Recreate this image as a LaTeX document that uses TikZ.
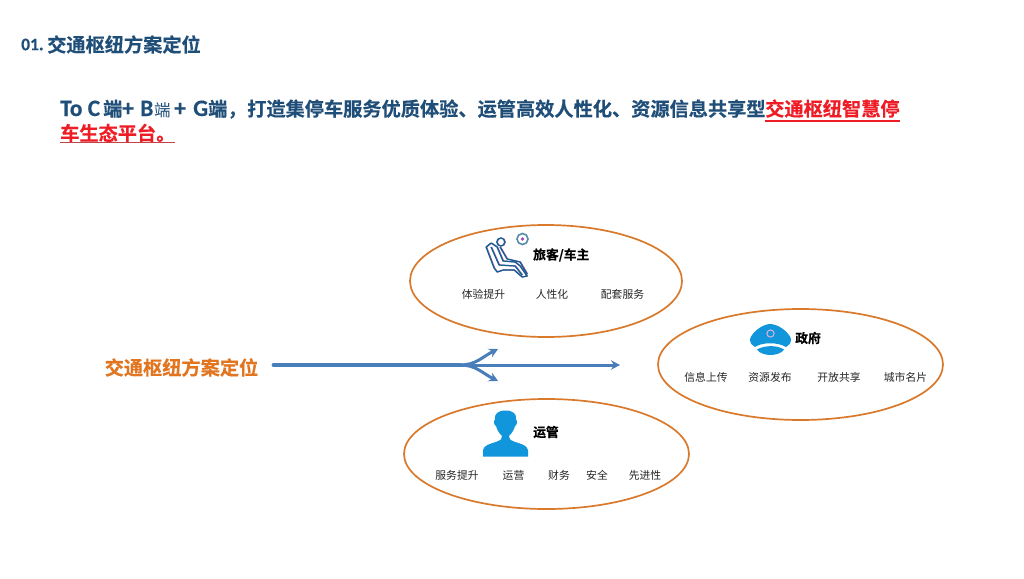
\documentclass[tikz,border=0pt]{standalone}
\usepackage{fontspec}
\usetikzlibrary{arrows.meta}
\setmainfont{Noto Sans CJK SC}
\newfontfamily\cjkb[FakeBold=0.35]{Noto Sans CJK SC Bold}
\newfontfamily\latb[FakeBold=0.35]{Carlito Bold}
\definecolor{navy}{HTML}{1F4E79}
\definecolor{hubred}{HTML}{EE1C25}
\definecolor{ringorange}{HTML}{D9792B}
\definecolor{labelorange}{HTML}{E2751F}
\definecolor{flowblue}{HTML}{4A7EBB}
\definecolor{iconblue}{HTML}{1296DB}
\tikzset{
  small/.style={font=\fontsize{10.8}{12}\selectfont,text=black!85,inner sep=0pt,anchor=center},
  head/.style={font=\cjkb\fontsize{12.8}{14}\selectfont,text=black,inner sep=0pt,anchor=west},
  title/.style={font=\cjkb\fontsize{19.2}{22}\selectfont,inner sep=0pt,anchor=west},
  latin/.style={font=\latb\fontsize{23.5}{24}\selectfont,inner sep=0pt,anchor=base west,text=navy},
  flow/.style={draw=flowblue,line cap=round},
  tip/.style={-{Stealth[length=9pt,width=9.5pt,inset=3pt]}},
  oval/.style={ringorange,line width=1.7pt},
  seatline/.style={draw=#1,line width=1.2pt,line join=round,fill=none},
}
\begin{document}
\begin{tikzpicture}[x=1pt,y=-1pt]
\useasboundingbox (0,0) rectangle (1024,578);
\fill[white] (0,0) rectangle (1024,578);
% headings
\node[font=\latb\fontsize{17.5}{22}\selectfont,text=navy,inner sep=0pt,anchor=west] (t00) at (21,44.5) {01.};
\node[title,text=navy] (t0) at (47,44.5) {交通枢纽方案定位};
\node[latin] (l1) at (60,116) {To C};
\node[title,text=navy,anchor=base west] (l2) at (103,116) {端};
\node[latin] (l3) at (122,116) {+};
\node[latin] (l4) at (140,116) {B};
\node[font=\fontsize{16.5}{20}\selectfont,text=navy,inner sep=0pt,anchor=base west] (l5) at (154,116) {端};
\node[latin] (l6) at (174,116) {+};
\node[latin] (l7) at (193,116) {G};
\node[title,text=navy,anchor=base west] (l8) at (208,116) {端，};
\node[title,text=navy,anchor=base west] (t1) at (247,116) {打造集停车服务优质体验、运管高效人性化、资源信息共享型};
\node[title,text=hubred,anchor=base west] (t2) at (765,116) {交通枢纽智慧停};
\node[title,text=hubred] (t3) at (60,133) {车生态平台。};
\draw[hubred,line width=1.6pt] (765,120.8) -- (900,120.8);
\draw[hubred!75!black!80,line width=1.4pt] (60,142.5) -- (175,142.5);
% ellipses
\node[inner sep=0pt] (top) at (546,281) {};
\draw[oval] (546,281) ellipse [x radius=136,y radius=56];
\node[inner sep=0pt] (right) at (800.5,364.5) {};
\draw[oval] (800.5,364.5) ellipse [x radius=142.5,y radius=55.5];
\node[inner sep=0pt] (bottom) at (546.5,454) {};
\draw[oval] (546.5,454) ellipse [x radius=142.5,y radius=55];
% left label and arrows
\node[font=\cjkb\fontsize{19.2}{22}\selectfont,text=labelorange,inner sep=0pt] (src) at (181.5,367.5) {交通枢纽方案定位};
\coordinate (hub) at (460,365);
\coordinate (tipA) at (620,365);
\coordinate (tipB) at (498,349);
\coordinate (tipC) at (498,381);
\draw[flow,line width=3.8pt,shorten <=15pt] (src.east |- hub) -- (hub);
\draw[flow,line width=3pt,tip] (hub) -- (tipA);
\draw[flow,line width=3pt,tip] (hub) .. controls (476,365) and (482,357) .. (tipB);
\draw[flow,line width=3pt,tip] (hub) .. controls (476,365) and (482,373) .. (tipC);
% top ellipse content
\node[head] (h1) at (533,255) {旅客/车主};
\node[small] (a1) at (483.5,294.5) {体验提升};
\node[small] (a2) at (552,294.5) {人性化};
\node[small] (a3) at (622.5,294.5) {配套服务};
% seat icon
\foreach \c/\d in {violet!65/0.6, iconblue!65!black/0}{
\begin{scope}[xshift=\d pt]
\draw[seatline=\c] (486,247) -- (491,243) -- (497,247) -- (503,261) -- (515,262) -- (520,266) -- (527,276) -- (522,277) -- (514,270) -- (503,270) -- (497,272) -- (494,268) -- cycle;
\draw[seatline=\c] (491,247) -- (499,265) -- (515,266) -- (522,275);
\draw[seatline=\c] (500,247) -- (507,259) -- (520,262) -- (527,274);
\draw[seatline=\c] (500.7,242) circle (4);
\end{scope}
}
\draw[line width=1.6pt,draw=iconblue!60!black!70] (522.5,239) circle (5.5);
\fill[violet!70] (522.5,239) circle (1.8);
% right ellipse content
\node[head] (h2) at (795,338) {政府};
\node[small] (b1) at (706,377.5) {信息上传};
\node[small] (b2) at (770,377.5) {资源发布};
\node[small] (b3) at (839,377.5) {开放共享};
\node[small] (b4) at (905.5,377.5) {城市名片};
% cap icon
\fill[iconblue] (750,339) .. controls (752,332) and (763,324) .. (770,324) .. controls (778,324) and (789,332) .. (791,339) .. controls (791,343) and (789,346) .. (786,347) .. controls (778,342) and (762,342) .. (755,347) .. controls (752,346) and (750,343) .. (750,339) -- cycle;
\fill[iconblue] (757,349.5) .. controls (765,345) and (777,345) .. (784,349.5) .. controls (782,353) and (776,355) .. (770.5,355) .. controls (765,355) and (759,353) .. (757,349.5) -- cycle;
\draw[white!70!violet,line width=1pt] (770.5,333.5) circle (3.6);
% bottom ellipse content
\node[head] (h3) at (533,432) {运管};
\node[small] (c1) at (457,475) {服务提升};
\node[small] (c2) at (513.5,475) {运营};
\node[small] (c3) at (559,475) {财务};
\node[small] (c4) at (597,475) {安全};
\node[small] (c5) at (645,475) {先进性};
% person icon
\fill[iconblue] (483,456.5) -- (483,450) .. controls (484,445) and (490,444) .. (497,441.5) .. controls (501,440) and (502,439) .. (502,436) .. controls (499,433) and (497,430) .. (496,426) .. controls (494,425) and (493,421) .. (495,419.5) .. controls (494,414) and (498,410.5) .. (505.5,410.5) .. controls (513,410.5) and (517,414) .. (516,419.5) .. controls (518,421) and (517,425) .. (515,426) .. controls (514,430) and (512,433) .. (509,436) .. controls (509,439) and (510,440) .. (514,441.5) .. controls (521,444) and (527,445) .. (528,450) -- (528,456.5) -- cycle;
\end{tikzpicture}
\end{document}
